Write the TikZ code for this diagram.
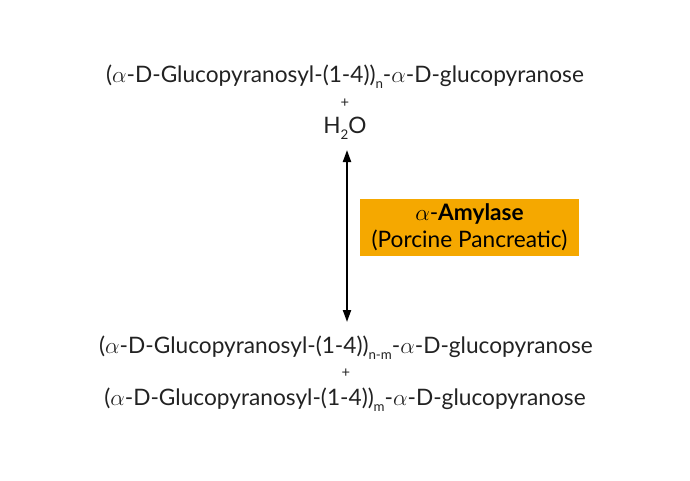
\documentclass[tikz,border=0pt]{standalone}
\usepackage{fontspec}
\setmainfont{Lato}
\usetikzlibrary{arrows.meta}
\definecolor{amyorange}{RGB}{245,168,0}
\definecolor{inkgray}{RGB}{34,34,34}
\newcommand{\lowidx}[1]{\raisebox{-0.55ex}{\fontsize{10}{10}\selectfont #1}}
\newcommand{\glcchain}[1]{($\alpha$-D-Glucopyranosyl-(1-4))\lowidx{#1}-$\alpha$-D-glucopyranose}

\begin{document}
\begin{tikzpicture}[x=0.75pt,y=0.75pt,yscale=-1,xscale=1]
\tikzset{
  chem/.style={font=\fontsize{17}{20}\selectfont, text=inkgray, inner sep=1pt},
  plus/.style={font=\fontsize{11}{12}\selectfont, text=inkgray, inner sep=0pt},
  enzyme/.style={fill=amyorange, text=black, align=center, minimum width=164.25pt, minimum height=42.75pt, font=\fontsize{17}{20}\selectfont, inner sep=0pt}
}
\useasboundingbox (0,0) rectangle (690,480);

% Substrates
\node [chem] (top) at (345,77) {\glcchain{n}};
\node [plus] (plusa) at (345,103) {+};
\node [chem] (water) at (345,128) {H\lowidx{2}O};

% Enzyme
\node [enzyme] (amylase) at (469.5,227.5) {$\alpha$-\textbf{Amylase}\\(Porcine Pancreatic)};

% Products
\node [chem] (prodnm) at (346,348) {\glcchain{n-m}};
\node [plus] (plusb) at (346,373) {+};
\node [chem] (prodm) at (345,400) {\glcchain{m}};

% Reaction arrow
\coordinate (arrtop) at (347,150);
\coordinate (arrbot) at (347,322);
\draw [line width=1.5pt, {Triangle[length=9pt,width=6pt]}-{Triangle[length=9pt,width=6pt]}] (arrtop) -- (arrbot);

\end{tikzpicture}
\end{document}
